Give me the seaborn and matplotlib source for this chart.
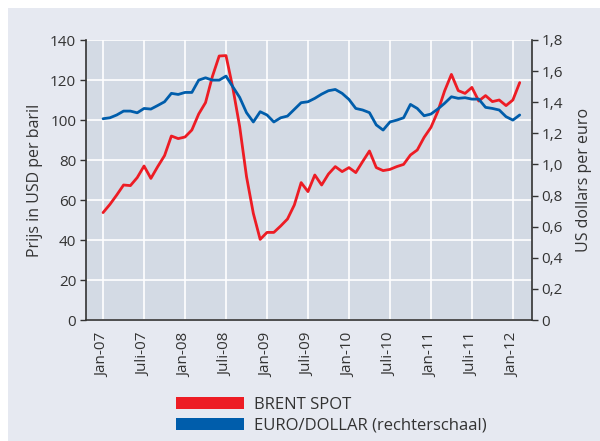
import numpy as np
import pandas as pd
import matplotlib
matplotlib.use("Agg")
import matplotlib.pyplot as plt
from matplotlib.patches import Rectangle, Patch
import seaborn as sns

# ---- data (monthly, Jan-07 .. Feb-12) ----
brent = [53.7, 57.8, 62.5, 67.5, 67.2, 71.2, 77.0, 70.8, 76.7, 82.2, 92.0, 90.7,
         91.5, 95.0, 103.0, 108.7, 121.7, 132.0, 132.2, 116.0, 96.7, 71.7, 53.3, 40.3,
         43.8, 43.8, 47.0, 50.5, 57.5, 68.7, 64.2, 72.5, 67.5, 73.0, 76.7, 74.2,
         76.2, 73.7, 79.2, 84.5, 76.2, 74.7, 75.3, 76.7, 77.8, 82.5, 85.0, 91.3,
         96.3, 104.2, 114.5, 122.8, 114.7, 113.3, 116.3, 109.5, 112.2, 109.2, 110.0, 107.2,
         110.0, 118.7]
eurusd = [1.294, 1.300, 1.318, 1.343, 1.343, 1.332, 1.360, 1.356, 1.379, 1.403, 1.457, 1.450,
          1.463, 1.463, 1.542, 1.557, 1.542, 1.542, 1.568, 1.499, 1.431, 1.333, 1.273, 1.339,
          1.318, 1.273, 1.300, 1.311, 1.354, 1.397, 1.403, 1.425, 1.452, 1.474, 1.482, 1.457,
          1.418, 1.360, 1.350, 1.333, 1.254, 1.221, 1.273, 1.285, 1.300, 1.386, 1.360, 1.313,
          1.324, 1.356, 1.393, 1.435, 1.425, 1.429, 1.420, 1.420, 1.367, 1.360, 1.350, 1.307,
          1.285, 1.318]
tick_labels = ['Jan-07', 'Juli-07', 'Jan-08', 'Juli-08', 'Jan-09', 'Juli-09',
               'Jan-10', 'Juli-10', 'Jan-11', 'Juli-11', 'Jan-12']
left_ticks = [0, 20, 40, 60, 80, 100, 120, 140]
right_ticks = [0, 0.2, 0.4, 0.6, 0.8, 1.0, 1.2, 1.4, 1.6, 1.8]
right_tick_labels = ['0', '0,2', '0,4', '0,6', '0,8', '1,0', '1,2', '1,4', '1,6', '1,8']

df = pd.DataFrame({'month': np.arange(len(brent)), 'brent': brent, 'eurusd': eurusd})

RED = '#ed1c24'
BLUE = '#005dab'
TXT = '#333333'
PANEL = '#e6e9f1'
PLOTBG = '#d3dae4'

sns.set_style('white', rc={'axes.facecolor': PLOTBG, 'grid.color': 'white'})
plt.rcParams['font.family'] = ['Open Sans', 'DejaVu Sans']

fig = plt.figure(figsize=(6.0, 4.41), dpi=100)
fig.patch.set_facecolor('white')
fig.patches.append(Rectangle((8 / 600, 0), 1, 1 - 8 / 441, transform=fig.transFigure,
                             facecolor=PANEL, edgecolor='none', zorder=-10))

ax = fig.add_axes([86 / 600, 1 - 320 / 441, (532 - 86) / 600, (320 - 40) / 441])
ax.set_facecolor(PLOTBG)
sns.lineplot(data=df, x='month', y='brent', ax=ax, color=RED, linewidth=2.0, zorder=3)

ax.set_xlim(-2.5, 62.8)
ax.set_ylim(0, 140)
ax.set_xticks(np.arange(0, 61, 6))
ax.set_xticklabels(tick_labels, rotation=90, fontsize=11, color=TXT)
ax.set_yticks(left_ticks)
ax.set_yticklabels([str(t) for t in left_ticks], fontsize=11, color=TXT)
ax.grid(True, color='white', linewidth=1.2)
ax.set_axisbelow(True)
ax.set_xlabel('')
ax.set_ylabel('Prijs in USD per baril', fontsize=11.5, color=TXT, labelpad=5)
ax.tick_params(axis='both', direction='out', length=4, width=1, color=TXT, pad=3)
ax.tick_params(axis='x', pad=5)
for s in ['top', 'right']:
    ax.spines[s].set_visible(False)
for s in ['left', 'bottom']:
    ax.spines[s].set_color(TXT)
    ax.spines[s].set_linewidth(1.2)

ax2 = ax.twinx()
sns.lineplot(data=df, x='month', y='eurusd', ax=ax2, color=BLUE, linewidth=2.0, zorder=3)
ax2.set_ylim(0, 1.8)
ax2.set_yticks(right_ticks)
ax2.set_yticklabels(right_tick_labels, fontsize=11, color=TXT)
ax2.set_ylabel('US dollars per euro', fontsize=11.5, color=TXT, labelpad=9)
ax2.tick_params(axis='y', direction='out', length=4, width=1, color=TXT, pad=3)
ax2.grid(False)
for s in ['top', 'left', 'bottom']:
    ax2.spines[s].set_visible(False)
ax2.spines['right'].set_color(TXT)
ax2.spines['right'].set_linewidth(1.2)
ax2.set_xlim(-2.5, 62.8)

handles = [Patch(facecolor=RED, edgecolor='none', label='BRENT SPOT'),
           Patch(facecolor=BLUE, edgecolor='none', label='EURO/DOLLAR (rechterschaal)')]
leg = fig.legend(handles=handles, loc='upper left', bbox_to_anchor=(164 / 600, 1 - 385 / 441),
                 frameon=False, fontsize=12.0, handlelength=4.1, handleheight=0.72,
                 handletextpad=0.6, labelspacing=0.32, borderpad=0.2)
for t in leg.get_texts():
    t.set_color(TXT)

fig.savefig('out.png', dpi=100, facecolor=fig.get_facecolor())
